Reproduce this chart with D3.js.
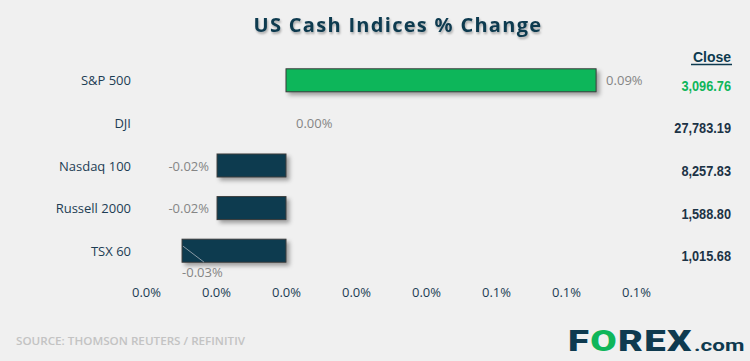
<!DOCTYPE html>
<html>
<head>
<meta charset="utf-8">
<script src="https://cdn.jsdelivr.net/npm/d3@7"></script>
<style>
  body { margin: 0; background: #f0f0f0; }
  svg { display: block; }
</style>
</head>
<body>
<svg id="chart"></svg>
<script>
'use strict';

// data
const indices = ['S&P 500', 'DJI', 'Nasdaq 100', 'Russell 2000', 'TSX 60'];
const changes = [0.0886, 0.0, -0.0197, -0.0197, -0.0297];
const closes = ['3,096.76', '27,783.19', '8,257.83', '1,588.80', '1,015.68'];
const ticks = [-0.04, -0.02, 0, 0.02, 0.04, 0.06, 0.08, 0.10];

const width = 750;
const height = 361;
const DARK = '#083a4f';
const GREEN = '#0fb65a';

const svg = d3.select('#chart')
  .attr('width', width)
  .attr('height', height);

svg.append('rect')
  .attr('width', width).attr('height', height)
  .attr('fill', '#f0f0f0');

const defs = svg.append('defs');
const shadow = defs.append('filter').attr('id', 'shadow')
  .attr('x', '-10%').attr('y', '-20%').attr('width', '130%').attr('height', '160%');
shadow.append('feDropShadow')
  .attr('dx', 3).attr('dy', 3).attr('stdDeviation', 2)
  .attr('flood-color', '#000').attr('flood-opacity', 0.35);
const tshadow = defs.append('filter').attr('id', 'tshadow');
tshadow.append('feDropShadow')
  .attr('dx', 1).attr('dy', 2).attr('stdDeviation', 1.2)
  .attr('flood-color', '#000').attr('flood-opacity', 0.3);

// title
svg.append('text')
  .attr('x', 398).attr('y', 32)
  .attr('text-anchor', 'middle')
  .attr('font-family', 'Open Sans, sans-serif')
  .attr('font-weight', 'bold')
  .attr('font-size', '20px')
  .attr('letter-spacing', '1.3px')
  .attr('fill', '#0d3a4f')
  .attr('filter', 'url(#tshadow)')
  .text('US Cash Indices % Change');

// scales
const x = d3.scaleLinear().domain([-0.04, 0.10]).range([146, 636]);
const y = d3.scaleBand().domain(indices).range([59, 272]).paddingInner(0.46).paddingOuter(0.23);

// bars
svg.selectAll('rect.bar')
  .data(indices)
  .enter()
  .append('rect')
  .attr('class', 'bar')
  .attr('x', (d, i) => x(Math.min(0, changes[i])))
  .attr('y', (d) => y(d))
  .attr('width', (d, i) => Math.abs(x(changes[i]) - x(0)))
  .attr('height', y.bandwidth())
  .attr('fill', (d, i) => changes[i] > 0 ? GREEN : DARK)
  .attr('stroke', '#3a3a3a')
  .attr('stroke-width', 1)
  .attr('filter', 'url(#shadow)')
  .style('display', (d, i) => changes[i] === 0 ? 'none' : null);

// category labels
svg.selectAll('text.cat')
  .data(indices)
  .enter()
  .append('text')
  .attr('class', 'cat')
  .attr('x', 131)
  .attr('y', (d) => y(d) + y.bandwidth() / 2 + 5)
  .attr('text-anchor', 'end')
  .attr('font-family', 'Open Sans, sans-serif')
  .attr('font-size', '13px')
  .attr('fill', '#1d3d54')
  .text((d) => d);

// value labels
const fmt = (v) => v.toFixed(2) + '%';
const lastIdx = indices.length - 1;
svg.selectAll('text.val')
  .data(indices)
  .enter()
  .append('text')
  .attr('class', 'val')
  .attr('x', (d, i) => {
    if (i === lastIdx) return x(changes[i]);
    return changes[i] < 0 ? x(changes[i]) - 8 : x(changes[i]) + 10;
  })
  .attr('y', (d, i) => i === lastIdx ? y(d) + y.bandwidth() + 15 : y(d) + y.bandwidth() / 2 + 5)
  .attr('text-anchor', (d, i) => (changes[i] < 0 && i !== lastIdx) ? 'end' : 'start')
  .attr('font-family', 'Open Sans, sans-serif')
  .attr('font-size', '13px')
  .attr('fill', '#858585')
  .text((d, i) => fmt(changes[i]));

// leader line for the TSX label
const tsx = indices[lastIdx];
svg.append('line')
  .attr('x1', x(changes[lastIdx]) + 1).attr('y1', y(tsx) + 7)
  .attr('x2', x(changes[lastIdx]) + 22).attr('y2', y(tsx) + y.bandwidth())
  .attr('stroke', '#8a9aa5').attr('stroke-width', 1);

// axis
const axis = d3.axisBottom(x)
  .tickValues(ticks)
  .tickSize(0)
  .tickFormat(d3.format('.1%'));
const xAxis = svg.append('g')
  .attr('transform', 'translate(0,285)')
  .call(axis);
xAxis.select('.domain').remove();
xAxis.selectAll('text')
  .attr('font-family', 'Open Sans, sans-serif')
  .attr('font-size', '13px')
  .attr('fill', '#1d3d54')
  .text((d) => (d / 100 >= 0.0005 ? '0.1%' : '0.0%'));

// close column
svg.append('text')
  .attr('x', 731).attr('y', 62)
  .attr('text-anchor', 'end')
  .attr('font-family', 'Liberation Sans, Arial, sans-serif')
  .attr('font-weight', 'bold')
  .attr('font-size', '14px')
  .attr('fill', '#0d3a4f')
  .text('Close');
svg.append('line')
  .attr('x1', 691).attr('x2', 732)
  .attr('y1', 64.5).attr('y2', 64.5)
  .attr('stroke', '#0d3a4f').attr('stroke-width', 1.5);

const closeCol = svg.append('g')
  .attr('transform', 'translate(731,0) scale(0.85,1)');
closeCol.selectAll('text.close')
  .data(indices)
  .enter()
  .append('text')
  .attr('class', 'close')
  .attr('x', 0)
  .attr('y', (d) => y(d) + y.bandwidth() / 2 + 10.5)
  .attr('text-anchor', 'end')
  .attr('font-family', 'Liberation Sans, Arial, sans-serif')
  .attr('font-weight', 'bold')
  .attr('font-size', '15px')
  .attr('fill', (d, i) => i === 0 ? GREEN : '#1c3346')
  .text((d, i) => closes[i]);

// footer
svg.append('text')
  .attr('x', 16).attr('y', 345)
  .attr('font-family', 'Open Sans, sans-serif')
  .attr('font-weight', 600)
  .attr('font-size', '11px')
  .attr('textLength', 229)
  .attr('lengthAdjust', 'spacingAndGlyphs')
  .attr('fill', '#c3c3c3')
  .text('SOURCE: THOMSON REUTERS / REFINITIV');

// logo
const logo = svg.append('g')
  .attr('transform', 'translate(568,351) scale(1.32,1)')
  .append('text')
  .attr('x', 0).attr('y', 0)
  .attr('font-family', 'Roboto, sans-serif')
  .attr('font-weight', 900)
  .attr('font-size', '29px')
  .attr('letter-spacing', '1px')
  .attr('fill', '#0e3a4f');
logo.append('tspan').text('F');
logo.append('tspan').attr('fill', GREEN).text('O');
logo.append('tspan').text('REX');
logo.append('tspan').attr('font-size', '17px').attr('font-weight', 700)
  .attr('letter-spacing', '0px').attr('dx', 1).text('.com');
</script>
</body>
</html>
